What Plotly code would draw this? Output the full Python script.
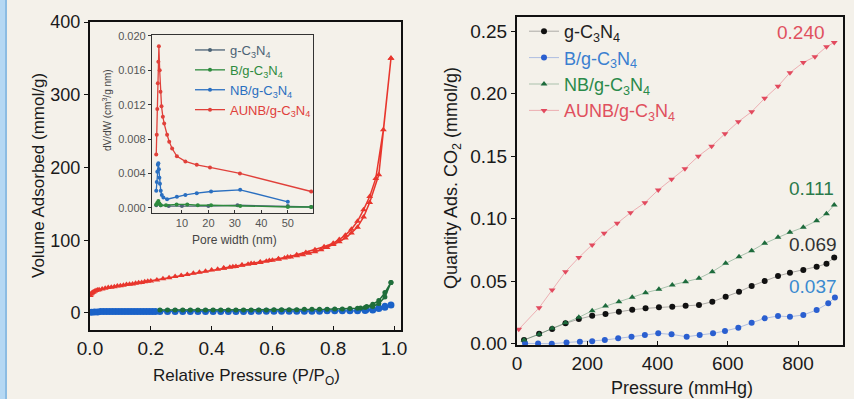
import plotly.graph_objects as go

W, H = 854, 399
BG = "#f4f1ea"

# ---------------- left main panel: N2 isotherms ----------------
red_ads_x = [0.001, 0.003, 0.005, 0.008, 0.011, 0.015, 0.02, 0.025, 0.03, 0.04, 0.05, 0.06, 0.07, 0.08,
             0.09, 0.10, 0.11, 0.12, 0.13, 0.14, 0.15, 0.16, 0.17, 0.18, 0.19, 0.20, 0.22, 0.24, 0.26,
             0.28, 0.30, 0.32, 0.34, 0.36, 0.38, 0.40, 0.42, 0.44, 0.46, 0.48, 0.50, 0.52, 0.54, 0.56,
             0.58, 0.60, 0.62, 0.64, 0.66, 0.68, 0.70, 0.72, 0.74, 0.76, 0.78, 0.80, 0.82, 0.84, 0.86,
             0.88, 0.90, 0.92, 0.95, 0.99]
red_ads_y = [24, 26, 27, 28, 29, 30, 31, 31.5, 32, 33, 34, 35, 35.5, 36,
             37, 37.5, 38, 39, 39.5, 40, 41, 41.5, 42, 43, 43.5, 44, 45.5, 47, 48.5,
             50, 51.5, 53, 54.5, 56, 57.5, 59, 60, 61.5, 63, 64, 65.5, 67, 68, 69.5,
             71, 72.5, 74, 75.5, 77, 78.5, 80, 82, 84, 87, 90, 94, 98, 103, 110,
             118, 132, 152, 190, 350]
red_des_x = [0.99, 0.965, 0.94, 0.92, 0.90, 0.88, 0.86, 0.84, 0.82, 0.80, 0.77, 0.74, 0.71, 0.68,
             0.65, 0.62, 0.59, 0.56, 0.53, 0.50, 0.47, 0.44]
red_des_y = [350, 252, 185, 160, 142, 126, 115, 107, 101, 96, 91, 87, 83, 80,
             77, 74.5, 72, 70, 68, 66, 63.5, 62]

rel_p = [0.005, 0.015, 0.025, 0.035, 0.045, 0.055, 0.065, 0.075, 0.085, 0.095, 0.105, 0.115, 0.125,
         0.135, 0.145, 0.155, 0.165, 0.175, 0.185, 0.195, 0.205, 0.215, 0.23, 0.255, 0.28, 0.305,
         0.33, 0.355, 0.38, 0.405, 0.43, 0.455, 0.48, 0.505, 0.53, 0.555, 0.58, 0.605, 0.63, 0.655,
         0.68, 0.705, 0.73, 0.755, 0.78, 0.805, 0.83, 0.855, 0.88, 0.905, 0.93, 0.95, 0.97, 0.99]
blue_ads_y = [1, 1.5, 1.5, 2, 2, 2, 2, 2, 2, 2, 2, 2, 2,
              2, 2, 2, 2, 2, 2, 2, 2, 2, 2, 2, 2, 2,
              2, 2, 2, 2, 2, 2, 2, 2, 2, 2.5, 2.5, 2.5, 2.5, 2.5,
              2.5, 2.5, 2.5, 2.5, 3, 3, 3, 3, 3, 3.5, 4, 6, 8, 11]
blue_des_x = [0.99, 0.97, 0.95, 0.93, 0.91]
blue_des_y = [11, 10, 8, 5, 4]

green_x = [0.23, 0.255, 0.28, 0.305, 0.33, 0.355, 0.38, 0.405, 0.43, 0.455, 0.48, 0.505, 0.53, 0.555,
           0.58, 0.605, 0.63, 0.655, 0.68, 0.705, 0.73, 0.755, 0.78, 0.805, 0.83, 0.855, 0.88, 0.905,
           0.93, 0.95, 0.97, 0.99]
green_ads_y = [4, 4, 4, 4, 4, 4, 4, 4, 4, 4, 4, 4, 4, 4,
               4, 4.5, 4.5, 4.5, 4.5, 5, 5, 5, 5, 5.5, 5.5, 6, 6.5, 7.5,
               9, 13, 22, 42]
green_des_x = [0.99, 0.97, 0.95, 0.93, 0.91, 0.89]
green_des_y = [42, 28, 17, 12, 9, 7]

# ---------------- inset: pore size distribution ----------------
pore_red_x = [0.3, 0.5, 0.7, 0.9, 1.1, 1.3, 1.6, 1.9, 2.3, 2.8, 3.3, 4.4, 5.2, 6.3, 8.1, 11.3, 15.6,
              20.6, 31.9, 58.8]
pore_red_y = [0.0062, 0.0085, 0.0115, 0.0145, 0.0170, 0.0188, 0.0160, 0.0135, 0.0118, 0.0106, 0.0098,
              0.0085, 0.0077, 0.0069, 0.0060, 0.0054, 0.0050, 0.0047, 0.0040, 0.0019]
pore_blue_x = [0.3, 0.5, 0.7, 0.9, 1.1, 1.3, 1.5, 1.7, 2.0, 2.4, 3.0, 4.4, 8.1, 11.3, 15.6, 21.0, 32.0, 50.0]
pore_blue_y = [0.0020, 0.0030, 0.0042, 0.0050, 0.0052, 0.0045, 0.0035, 0.0028, 0.0020, 0.0015, 0.0012,
               0.0010, 0.0013, 0.0015, 0.0017, 0.0019, 0.0021, 0.0007]
pore_green_x = [0.3, 0.7, 1.1, 1.5, 2.0, 4.0, 8.0, 12.0, 16.0, 21.0, 32.0, 50.0, 58.8]
pore_green_y = [0.0004, 0.0006, 0.0008, 0.0005, 0.0003, 0.0003, 0.0004, 0.0004, 0.0003, 0.0003,
                0.0002, 0.0001, 0.0001]
pore_g_x = [0.3, 1.0, 2.0, 5.0, 10.0, 20.0, 31.0, 50.0, 58.8]
pore_g_y = [0.0003, 0.0005, 0.0003, 0.0002, 0.0002, 0.0002, 0.0003, 0.0002, 0.0001]

# ---------------- right panel: CO2 uptake ----------------
p_red = [5, 63, 100, 138, 176, 214, 248, 285, 323, 364, 402, 440, 478, 516, 554, 592, 630, 668, 705,
         743, 777, 815, 848, 881, 903]
co2_red = [0.0115, 0.0288, 0.043, 0.0576, 0.069, 0.079, 0.0883, 0.0963, 0.1048, 0.1128, 0.123, 0.1315,
           0.140, 0.150, 0.158, 0.168, 0.1776, 0.1856, 0.1963, 0.206, 0.2168, 0.225, 0.2296, 0.2376, 0.241]
p_mid = [20, 63, 100, 138, 176, 214, 252, 290, 328, 366, 404, 442, 480, 518, 556, 594, 632, 668, 705,
         743, 777, 815, 853, 881, 903]
co2_g = [0.003, 0.008, 0.0118, 0.0163, 0.0197, 0.0224, 0.0238, 0.0256, 0.0272, 0.0283, 0.0291, 0.0296,
         0.0304, 0.031, 0.0336, 0.0376, 0.0416, 0.0462, 0.0502, 0.0542, 0.0568, 0.059, 0.0616, 0.064, 0.069]
co2_nb = [0.003, 0.0075, 0.0123, 0.0168, 0.0211, 0.0264, 0.0302, 0.0336, 0.0371, 0.0408, 0.0435, 0.047,
          0.0496, 0.0523, 0.0576, 0.0643, 0.0696, 0.0744, 0.0803, 0.0851, 0.0891, 0.0931, 0.0984, 0.104,
          0.111]
p_blue = [23, 60, 99, 141, 179, 214, 250, 288, 326, 364, 402, 440, 483, 520, 558, 592, 630, 668, 705,
          743, 777, 815, 853, 886, 905]
co2_b = [0.0003, 0.0001, 0.0, 0.001, 0.0016, 0.002, 0.003, 0.0043, 0.0056, 0.007, 0.0083, 0.0075,
         0.0056, 0.007, 0.0083, 0.0102, 0.0128, 0.0168, 0.0203, 0.0222, 0.0216, 0.023, 0.027, 0.0323, 0.037]

names_plain = ["g-C<sub>3</sub>N<sub>4</sub>", "B/g-C<sub>3</sub>N<sub>4</sub>",
               "NB/g-C<sub>3</sub>N<sub>4</sub>", "AUNB/g-C<sub>3</sub>N<sub>4</sub>"]
end_labels = ["0.240", "0.111", "0.069", "0.037"]


def px(x):
    return x / W


def py(y):
    return 1 - y / H


def cname(txt, col):
    return f'<span style="color:{col}">{txt}</span>'


fig = go.Figure()

RED = "#e8362d"
GREEN = "#1f6e3a"
BLUE = "#1a62c8"

# left main
fig.add_trace(go.Scatter(x=blue_des_x, y=blue_des_y, mode="lines+markers", xaxis="x", yaxis="y",
                         line=dict(color=BLUE, width=1.5), marker=dict(color=BLUE, size=6),
                         showlegend=False))
fig.add_trace(go.Scatter(x=rel_p, y=blue_ads_y, mode="lines+markers", xaxis="x", yaxis="y",
                         line=dict(color=BLUE, width=1.5), marker=dict(color=BLUE, size=7),
                         showlegend=False))
fig.add_trace(go.Scatter(x=green_x + green_des_x, y=green_ads_y + green_des_y, mode="lines+markers",
                         xaxis="x", yaxis="y", line=dict(color=GREEN, width=1.5),
                         marker=dict(color=GREEN, size=5), showlegend=False))
fig.add_trace(go.Scatter(x=red_ads_x + red_des_x, y=red_ads_y + red_des_y, mode="lines+markers",
                         xaxis="x", yaxis="y", line=dict(color=RED, width=1.5),
                         marker=dict(color=RED, size=6, symbol="triangle-up"), showlegend=False))

# inset
inset_cols = ["#4b6275", "#2e8b3e", "#2a6fc0", "#e0403a"]
inset_data = [(pore_g_x, pore_g_y), (pore_green_x, pore_green_y), (pore_blue_x, pore_blue_y),
              (pore_red_x, pore_red_y)]
for (xx, yy), col, nm in zip(inset_data, inset_cols, names_plain):
    fig.add_trace(go.Scatter(x=xx, y=yy, mode="lines+markers", xaxis="x3", yaxis="y3",
                             line=dict(color=col, width=1.3), marker=dict(color=col, size=4),
                             name=cname(nm, col), legend="legend2"))

# right panel
right_cols = ["#111111", "#2a5fd0", "#1d6b3c", "#e24a5e"]
right_line = ["rgba(40,40,40,0.35)", "rgba(42,95,208,0.35)", "rgba(29,107,60,0.35)",
              "rgba(226,74,94,0.4)"]
right_text_cols = ["#222222", "#3a7fd0", "#2a8a4a", "#e0505e"]
right_syms = ["circle", "circle", "triangle-up", "triangle-down"]
right_data = [(p_mid, co2_g), (p_blue, co2_b), (p_mid, co2_nb), (p_red, co2_red)]
for (xx, yy), col, lc, tc, sym, nm in zip(right_data, right_cols, right_line, right_text_cols,
                                          right_syms, names_plain):
    fig.add_trace(go.Scatter(x=xx, y=yy, mode="lines+markers", xaxis="x2", yaxis="y2",
                             line=dict(color=lc, width=1), marker=dict(color=col, size=6, symbol=sym),
                             name=cname(nm, tc), legend="legend"))

axis_common = dict(showline=True, linecolor="#111", linewidth=2, mirror=True, showgrid=False,
                   zeroline=False, tickcolor="#111", automargin=False)
inset_common = dict(showline=True, linecolor="#333", linewidth=1.2, mirror=True, showgrid=False,
                    zeroline=False, tickcolor="#333", automargin=False,
                    tickfont=dict(size=11, color="#555"))
big_tick = dict(size=19, color="#1a1a1a")
left_tick = dict(size=18, color="#1a1a1a")

fig.update_layout(
    template="none",
    width=W, height=H, margin=dict(l=0, r=0, t=0, b=0, pad=0),
    paper_bgcolor=BG, plot_bgcolor=BG,
    font=dict(family="Liberation Sans, Arial, sans-serif", color="#1a1a1a"),
    xaxis=dict(domain=[px(90), px(401)], range=[0, 1.023], tickvals=[0, 0.2, 0.4, 0.6, 0.8, 1.0],
               tickformat=".1f", ticks="inside", ticklen=4, anchor="y", tickfont=big_tick,
               **axis_common),
    yaxis=dict(domain=[py(330), py(22)], range=[-23.4, 400], tickvals=[0, 100, 200, 300, 400],
               ticks="outside", ticklen=4, anchor="x", tickfont=left_tick, **axis_common),
    xaxis2=dict(domain=[px(517), px(843)], range=[0, 928], tickvals=[0, 200, 400, 600, 800],
                ticks="inside", ticklen=4, anchor="y2", tickfont=big_tick, **axis_common),
    yaxis2=dict(domain=[py(345), py(16.7)], range=[-0.001, 0.2616],
                tickvals=[0, 0.05, 0.10, 0.15, 0.20, 0.25], tickformat=".2f",
                ticks="outside", ticklen=4, anchor="x2", tickfont=big_tick, **axis_common),
    xaxis3=dict(domain=[px(152), px(313)], range=[-1.3, 59.5], tickvals=[10, 20, 30, 40, 50],
                ticks="inside", ticklen=3, anchor="y3", **inset_common),
    yaxis3=dict(domain=[py(213), py(35)], range=[-0.0006, 0.0201],
                tickvals=[0, 0.004, 0.008, 0.012, 0.016, 0.020], tickformat=".3f",
                ticks="outside", ticklen=3, anchor="x3", **inset_common),
    legend=dict(x=px(524), y=py(13), xanchor="left", yanchor="top", bgcolor="rgba(0,0,0,0)",
                font=dict(size=18), itemwidth=30, tracegroupgap=0),
    legend2=dict(x=px(190), y=py(35), xanchor="left", yanchor="top", bgcolor="rgba(0,0,0,0)",
                 font=dict(size=13), itemwidth=30, tracegroupgap=0),
)

ann = [
    dict(text="Relative Pressure (P/P<sub>O</sub>)", x=px(246), y=py(377), size=17, color="#1a1a1a", angle=0),
    dict(text="Volume Adsorbed (mmol/g)", x=px(38), y=py(176), size=17, color="#1a1a1a", angle=-90),
    dict(text="Quantity Ads. CO<sub>2</sub> (mmol/g)", x=px(452), y=py(178), size=18, color="#1a1a1a", angle=-90),
    dict(text="Pressure (mmHg)", x=px(682), y=py(388), size=18, color="#1a1a1a", angle=0),
    dict(text="dV/dW (cm<sup>3</sup>/g nm)", x=px(107), y=py(110), size=10, color="#444", angle=-90),
    dict(text="Pore width (nm)", x=px(235), y=py(240), size=12, color="#444", angle=0),
    dict(text=end_labels[0], x=px(801), y=py(32), size=19, color="#e0505e", angle=0),
    dict(text=end_labels[1], x=px(811), y=py(189), size=19, color="#2a7a4a", angle=0),
    dict(text=end_labels[2], x=px(813), y=py(244), size=19, color="#333333", angle=0),
    dict(text=end_labels[3], x=px(813), y=py(286), size=19, color="#3a8ad0", angle=0),
]
for a in ann:
    fig.add_annotation(text=a["text"], x=a["x"], y=a["y"], xref="paper", yref="paper",
                       xanchor="center", yanchor="middle", showarrow=False, textangle=a["angle"],
                       font=dict(size=a["size"], color=a["color"]))

# left blue window edge
fig.add_shape(type="rect", xref="paper", yref="paper", x0=0, x1=px(7), y0=0, y1=1,
              fillcolor="#b5d8f3", line=dict(width=0), layer="below")
fig.add_shape(type="line", xref="paper", yref="paper", x0=px(6), x1=px(6), y0=0, y1=1,
              line=dict(color="#7fb3dd", width=1.5), layer="below")

fig.write_html("out.html")
